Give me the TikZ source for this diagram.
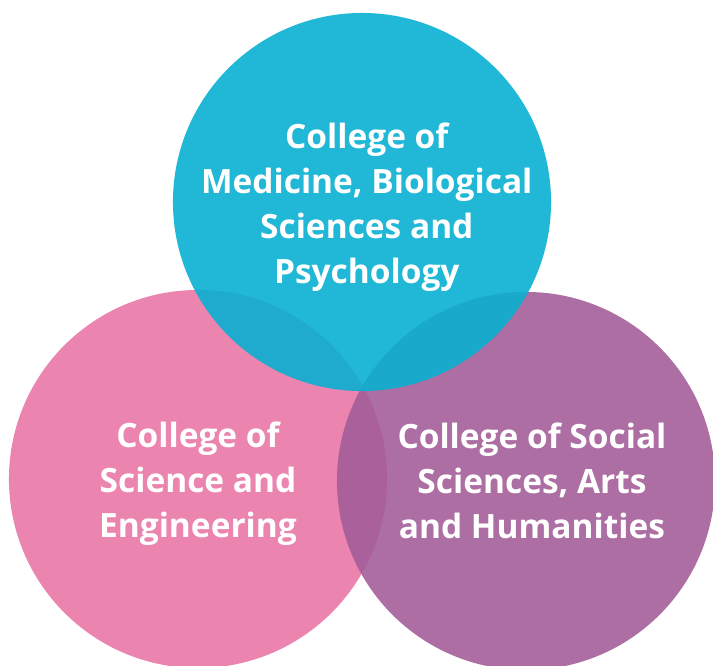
\documentclass[tikz,border=0pt]{standalone}
\usepackage{fontspec}
\setmainfont{Open Sans}
\usetikzlibrary{positioning}
\definecolor{CyanBlue}{RGB}{8,176,209}
\definecolor{RosePink}{RGB}{233,120,166}
\definecolor{Plum}{RGB}{163,94,153}

\begin{document}
\begin{tikzpicture}[x=0.025cm,y=-0.025cm]
        \tikzset{
            college/.style={circle,inner sep=0pt,minimum size=9.45cm,fill opacity=0.9},
            collegetext/.style={text=white,align=center,font=\fontsize{23.8pt}{32pt}\selectfont\bfseries}
        }
        \useasboundingbox (0,0) rectangle (713,666);
        \node[college,fill=RosePink] (sci) at (198,479) {};
        \node[college,fill=Plum] (soc) at (526,481) {};
        \node[college,fill=CyanBlue] (med) at (362,202) {};
        \node[collegetext,yshift=-0.13cm] (scitext) at (sci) {College of\\Science and\\Engineering};
        \node[collegetext,xshift=0.15cm] (soctext) at (soc) {College of Social\\Sciences, Arts\\and Humanities};
        \node[collegetext,xshift=0.12cm,yshift=-0.12cm] (medtext) at (med) {College of\\Medicine, Biological\\Sciences and\\Psychology};
    \end{tikzpicture}
\end{document}
